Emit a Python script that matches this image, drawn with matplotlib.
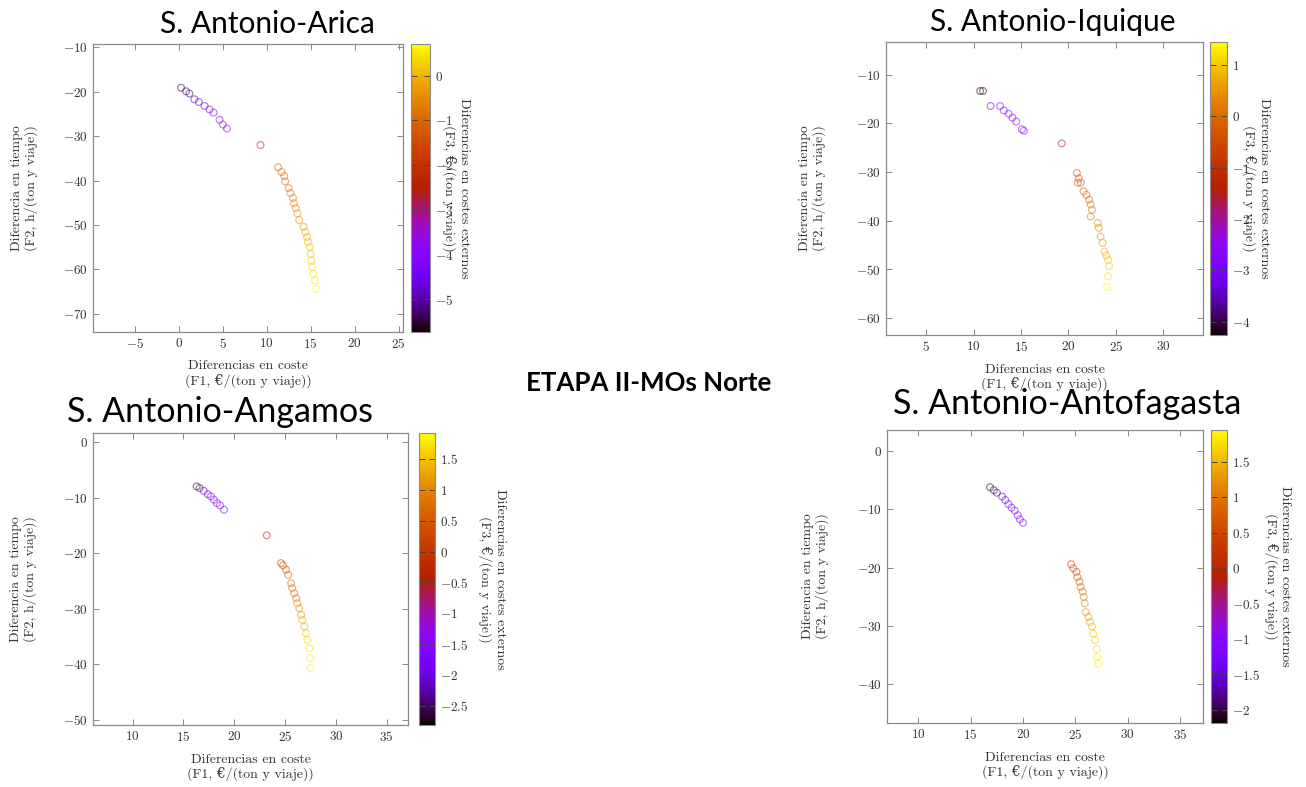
import numpy as np
import matplotlib
matplotlib.use('Agg')
import matplotlib.pyplot as plt
from matplotlib.colors import Normalize
from matplotlib.cm import ScalarMappable
from matplotlib.ticker import FuncFormatter

plt.rcParams['font.family'] = ['cmr10', 'DejaVu Serif']
plt.rcParams['mathtext.fontset'] = 'cm'
plt.rcParams['axes.formatter.use_mathtext'] = True

# ---- S. Antonio - Arica ----
arica_x = [0.27, 0.84, 1.22, 1.79, 2.29, 2.94, 3.51, 3.97, 4.65, 5.03, 5.49,
           9.3,
           11.3, 11.7, 12.0, 12.1, 12.5, 12.7, 13.0, 13.1, 13.3, 13.5, 13.7,
           14.2, 14.4, 14.6, 14.7, 14.9, 15.0, 15.1, 15.2, 15.3, 15.5, 15.6]
arica_y = [-19.1, -19.9, -20.4, -21.7, -22.3, -23.2, -24.0, -24.7, -26.3, -27.4, -28.3,
           -32.0,
           -37.0, -38.1, -39.0, -40.2, -41.7, -42.8, -43.9, -45.1, -46.2, -47.4, -48.9,
           -50.4, -51.6, -52.7, -53.8, -55.0, -56.5, -58.0, -59.5, -61.0, -62.5, -64.4]
arica_c = [-5.6, -5.4, -5.2, -4.9, -4.7, -4.5, -4.3, -4.1, -3.9, -3.8, -3.7,
           -2.6,
           -1.2, -1.1, -1.0, -0.95, -0.85, -0.75, -0.7, -0.6, -0.5, -0.45, -0.35,
           -0.25, -0.2, -0.1, 0.0, 0.05, 0.15, 0.25, 0.35, 0.45, 0.55, 0.65]

# ---- S. Antonio - Iquique ----
iquique_x = [10.7, 11.0,
             11.8, 12.8, 13.2, 13.7, 14.1, 14.5, 15.1, 15.3,
             19.3,
             20.9, 21.1, 21.3, 21.0, 21.6, 21.9, 22.2, 22.35, 22.5, 22.35,
             23.1, 23.2, 23.4, 23.6, 23.8, 24.0, 24.2, 24.3, 24.2, 24.1]
iquique_y = [-13.3, -13.3,
             -16.4, -16.4, -17.3, -18.0, -18.8, -19.6, -21.2, -21.5,
             -24.1,
             -30.2, -31.3, -32.2, -32.2, -34.0, -34.7, -35.7, -36.7, -37.8, -39.2,
             -40.5, -41.5, -43.3, -44.6, -46.4, -47.2, -48.1, -49.4, -51.5, -53.7]
iquique_c = [-4.2, -4.15,
             -2.9, -2.85, -2.8, -2.75, -2.7, -2.65, -2.6, -2.55,
             -1.5,
             -0.4, -0.35, -0.3, -0.3, -0.2, -0.1, 0.0, 0.05, 0.1, 0.2,
             0.3, 0.4, 0.5, 0.6, 0.7, 0.8, 0.9, 1.0, 1.2, 1.4]

# ---- S. Antonio - Angamos ----
angamos_x = [16.3, 16.6, 17.0, 17.4, 17.7, 18.0, 18.3, 18.6, 19.0,
             23.2,
             24.6, 24.8, 25.1, 25.3, 25.6, 25.7, 25.9, 26.1, 26.2,
             26.4, 26.6, 26.7, 26.9, 27.05, 27.2, 27.4, 27.5, 27.5]
angamos_y = [-8.0, -8.3, -8.8, -9.4, -9.8, -10.4, -11.0, -11.4, -12.2,
             -16.8,
             -21.8, -22.2, -23.0, -23.9, -25.4, -26.3, -27.2, -28.1, -29.0,
             -29.9, -31.1, -32.0, -33.2, -34.4, -35.6, -37.1, -38.9, -40.7]
angamos_c = [-2.75, -2.5, -2.2, -1.9, -1.75, -1.6, -1.5, -1.45, -1.4,
             -0.55,
             0.2, 0.3, 0.4, 0.5, 0.6, 0.7, 0.8, 0.9, 1.0,
             1.1, 1.2, 1.3, 1.4, 1.5, 1.6, 1.7, 1.8, 1.85]

# ---- S. Antonio - Antofagasta ----
antofa_x = [16.85, 17.2, 17.5, 18.0, 18.3, 18.6, 18.9, 19.2, 19.5, 19.7, 20.0,
            24.6, 24.8, 25.1, 25.2, 25.4, 25.5, 25.7, 25.8, 25.9,
            26.0, 26.25, 26.4, 26.6, 26.7, 26.9, 27.05, 27.1, 27.2]
antofa_y = [-6.2, -6.7, -7.15, -7.8, -8.4, -9.1, -9.7, -10.2, -11.0, -11.7, -12.3,
            -19.4, -20.1, -20.7, -21.6, -22.4, -23.3, -24.1, -25.0, -26.1,
            -27.6, -28.4, -29.3, -30.1, -31.3, -32.4, -33.9, -35.3, -36.4]
antofa_c = [-2.1, -2.0, -1.8, -1.6, -1.45, -1.3, -1.2, -1.1, -1.05, -1.0, -0.95,
            0.3, 0.4, 0.5, 0.6, 0.7, 0.8, 0.9, 1.0, 1.1,
            1.2, 1.3, 1.4, 1.5, 1.6, 1.7, 1.8, 1.85, 1.9]

W, H = 1306, 787
cmap = plt.get_cmap('gnuplot')
edge = '#8a8a8a'
txt = '#333333'

# colorbar labels like gnuplot: 1, 0.5, 0, -0.5 (no trailing .0)
short_fmt = FuncFormatter(lambda v, pos: '$\\mathdefault{%g}$' % v)


def rect(x0, y0, x1, y1):
    # pixel box -> figure fraction
    return [x0 / W, 1 - y1 / H, (x1 - x0) / W, (y1 - y0) / H]


def panel(fig, ax_box, cb_box, x, y, c, xlim, ylim, crange, xticks, yticks,
          cticks, lab_x, ylab_x):
    ax = fig.add_axes(rect(*ax_box))
    norm = Normalize(*crange)
    ax.scatter(x, y, s=24, facecolors='none', edgecolors=cmap(norm(np.array(c))),
               linewidths=0.9, alpha=0.5)
    ax.set_xlim(*xlim)
    ax.set_ylim(*ylim)
    ax.set_xticks(xticks)
    ax.set_yticks(yticks)
    ax.tick_params(direction='in', length=4, width=0.7, color=edge,
                   top=True, right=True, labelsize=9.5, labelcolor=txt)
    for s in ax.spines.values():
        s.set_color(edge)
        s.set_linewidth(0.9)
    ax.set_xlabel('Diferencias en coste\n(F1, €/(ton y viaje))', fontsize=10,
                  color=txt, linespacing=1.1, va='center')
    ax.set_ylabel('Diferencia en tiempo\n(F2, h/(ton y viaje))', fontsize=10,
                  color=txt, linespacing=1.1, va='center')
    ax.xaxis.set_label_coords(0.5, -0.145)
    ax.yaxis.set_label_coords(ylab_x, 0.5)

    cax = fig.add_axes(rect(*cb_box))
    cb = fig.colorbar(ScalarMappable(norm=norm, cmap=cmap), cax=cax)
    cb.set_ticks(cticks)
    cax.yaxis.set_major_formatter(short_fmt)
    cb.outline.set_edgecolor(edge)
    cb.outline.set_linewidth(0.8)
    cax.tick_params(direction='in', length=4, width=0.7, color='#444444',
                    left=True, right=True, labelsize=9.5, labelcolor=txt)
    cax.text(lab_x, 0.5, 'Diferencias en costes externos\n(F3, €/(ton y viaje))',
             transform=cax.transAxes, rotation=-90, ha='center', va='center',
             fontsize=10, color=txt, linespacing=1.1)
    return ax


fig = plt.figure(figsize=(W / 100, H / 100), dpi=100)

panel(fig, (93, 44, 403, 332), (411, 44, 430, 332),
      arica_x, arica_y, arica_c, (-9.74, 25.5), (-74.1, -9.25), (-5.73, 0.71),
      [-5, 0, 5, 10, 15, 20, 25], [-70, -60, -50, -40, -30, -20, -10],
      [-5, -4, -3, -2, -1, 0], 2.37, -0.222)

panel(fig, (886, 42, 1203, 335), (1210, 42, 1227, 335),
      iquique_x, iquique_y, iquique_c, (0.77, 34.2), (-63.6, -3.2), (-4.26, 1.45),
      [5, 10, 15, 20, 25, 30], [-60, -50, -40, -30, -20, -10],
      [-4, -3, -2, -1, 0, 1], 2.7, -0.233)

panel(fig, (93, 433, 408, 725), (419, 433, 435, 725),
      angamos_x, angamos_y, angamos_c, (6.1, 37.1), (-50.9, 1.6), (-2.81, 1.92),
      [10, 15, 20, 25, 30, 35], [-50, -40, -30, -20, -10, 0],
      [-2.5, -2, -1.5, -1, -0.5, 0, 0.5, 1, 1.5], 4.56, -0.22)

panel(fig, (887, 430, 1203, 723), (1211, 430, 1227, 723),
      antofa_x, antofa_y, antofa_c, (7.0, 37.2), (-46.6, 3.6), (-2.19, 1.95),
      [10, 15, 20, 25, 30, 35], [-40, -30, -20, -10, 0],
      [-2, -1.5, -1, -0.5, 0, 0.5, 1, 1.5], 4.17, -0.227)

# titles of each route and the stage heading
top_kw = dict(fontsize=21.5, family='Lato', ha='center', va='center', color='black')
bot_kw = dict(top_kw, fontsize=24.5)
fig.text(267 / W, 1 - 24 / H, 'S. Antonio-Arica', **top_kw)
fig.text(1053 / W, 1 - 22 / H, 'S. Antonio-Iquique', **top_kw)
fig.text(220 / W, 1 - 412 / H, 'S. Antonio-Angamos', **bot_kw)
fig.text(1067 / W, 1 - 404 / H, 'S. Antonio-Antofagasta', **bot_kw)
fig.text(649 / W, 1 - 383 / H, 'ETAPA II-MOs Norte', fontsize=18.6, family='Lato',
         weight='bold', ha='center', va='center', color='black')

fig.savefig('out.png', dpi=100)
